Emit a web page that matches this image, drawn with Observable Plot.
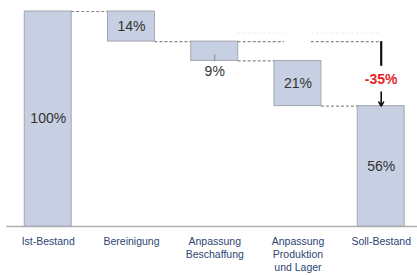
<!DOCTYPE html>
<html><head><meta charset="utf-8">
<script src="https://cdn.jsdelivr.net/npm/d3@7"></script>
<script src="https://cdn.jsdelivr.net/npm/@observablehq/plot@0.6"></script>
<style>
html,body{margin:0;padding:0;background:#fff;}
</style>
</head><body>
<div id="chart"></div>
<script>
const categories = ["Ist-Bestand", "Bereinigung", "Anpassung\nBeschaffung", "Anpassung\nProduktion\nund Lager", "Soll-Bestand"];
const changes = [100, -14, -9, -21, 56];   // first and last are totals
const kinds = ["total", "delta", "delta", "delta", "total"];
const valueLabels = ["100%", "14%", "9%", "21%", "56%"];
const gapLabel = "-35%";

// build waterfall table
let level = 0;
const bars = categories.map((c, i) => {
  let lo, hi;
  if (kinds[i] === "total") { lo = 0; hi = changes[i]; level = hi; }
  else { hi = level; lo = level + changes[i]; level = lo; }
  return {i, c, lo, hi, label: valueLabels[i], kind: kinds[i]};
});
const hw = 0.282;
const connectors = bars.slice(0, -1).map((b, k) => ({
  x1: b.i + hw, x2: bars[k + 1].i - hw, y: bars[k].kind === "total" ? b.hi : b.lo
}));
// broken reference line at level after Bereinigung toward the target bar
const refLevel = bars[1].lo;
const gap = 0.16;
const refSegs = [
  {x1: 2 + hw, x2: 3 - gap, y: refLevel},
  {x1: 3 + gap, x2: 4, y: refLevel}
];
const last = bars[4];
const labelY = bars.map(b => b.i === 2 ? b.lo - 5 : (b.lo + b.hi) / 2);

const chart = Plot.plot({
  width: 417, height: 275,
  margin: 0,
  x: {type: "linear", domain: [0, 4], range: [47.75, 380.7], axis: null},
  y: {domain: [0, 100], range: [226, 11], axis: null},
  style: {fontFamily: "'Liberation Sans', Arial, sans-serif", background: "#fff"},
  marks: [
    Plot.ruleY([0], {x1: -0.5, x2: 4.5, stroke: "#b0b0b0", strokeWidth: 1.5}),
    Plot.rect(bars, {x1: d => d.i - hw, x2: d => d.i + hw, y1: "lo", y2: "hi",
      fill: "#c7cfe2", stroke: "#a3a7b0", strokeWidth: 1}),
    Plot.ruleY(connectors, {x1: "x1", x2: "x2", y: "y", stroke: "#8a8a8a", strokeDasharray: "3,2", strokeWidth: 1.2}),
    Plot.ruleY(refSegs, {x1: "x1", x2: "x2", y: d => d.y + 4, stroke: "#ececec", strokeDasharray: "3,2", strokeWidth: 1}),
    Plot.ruleY(refSegs, {x1: "x1", x2: "x2", y: "y", stroke: "#8a8a8a", strokeDasharray: "3,2", strokeWidth: 1.2}),
    // small leader tick in bar 3
    Plot.ruleX([bars[2]], {x: "i", y1: d => d.lo - 0.4, y2: d => d.lo + 2.8, stroke: "#8a8a8a", strokeWidth: 1}),
    // arrow
    Plot.ruleX([last], {x: "i", y1: refLevel, y2: 74.5, stroke: "#111", strokeWidth: 2.2}),
    Plot.arrow([last], {x1: "i", x2: "i", y1: 62.5, y2: d => d.hi, stroke: "#111", strokeWidth: 1.6, headLength: 7, insetEnd: 0}),
    Plot.text([last], {x: "i", y: 68.2, text: () => gapLabel, fill: "#e3242b", fontWeight: "bold", fontSize: 14}),
    Plot.text(bars, {x: "i", y: (d, k) => labelY[k], text: "label", fill: "#333", fontSize: 14}),
    Plot.text(bars, {x: "i", y: 0, text: "c", dy: 10, lineAnchor: "top", fill: "#2d4573", fontSize: 10.5, lineHeight: 1.2})
  ]
});
document.getElementById("chart").appendChild(chart);
</script>
</body></html>
